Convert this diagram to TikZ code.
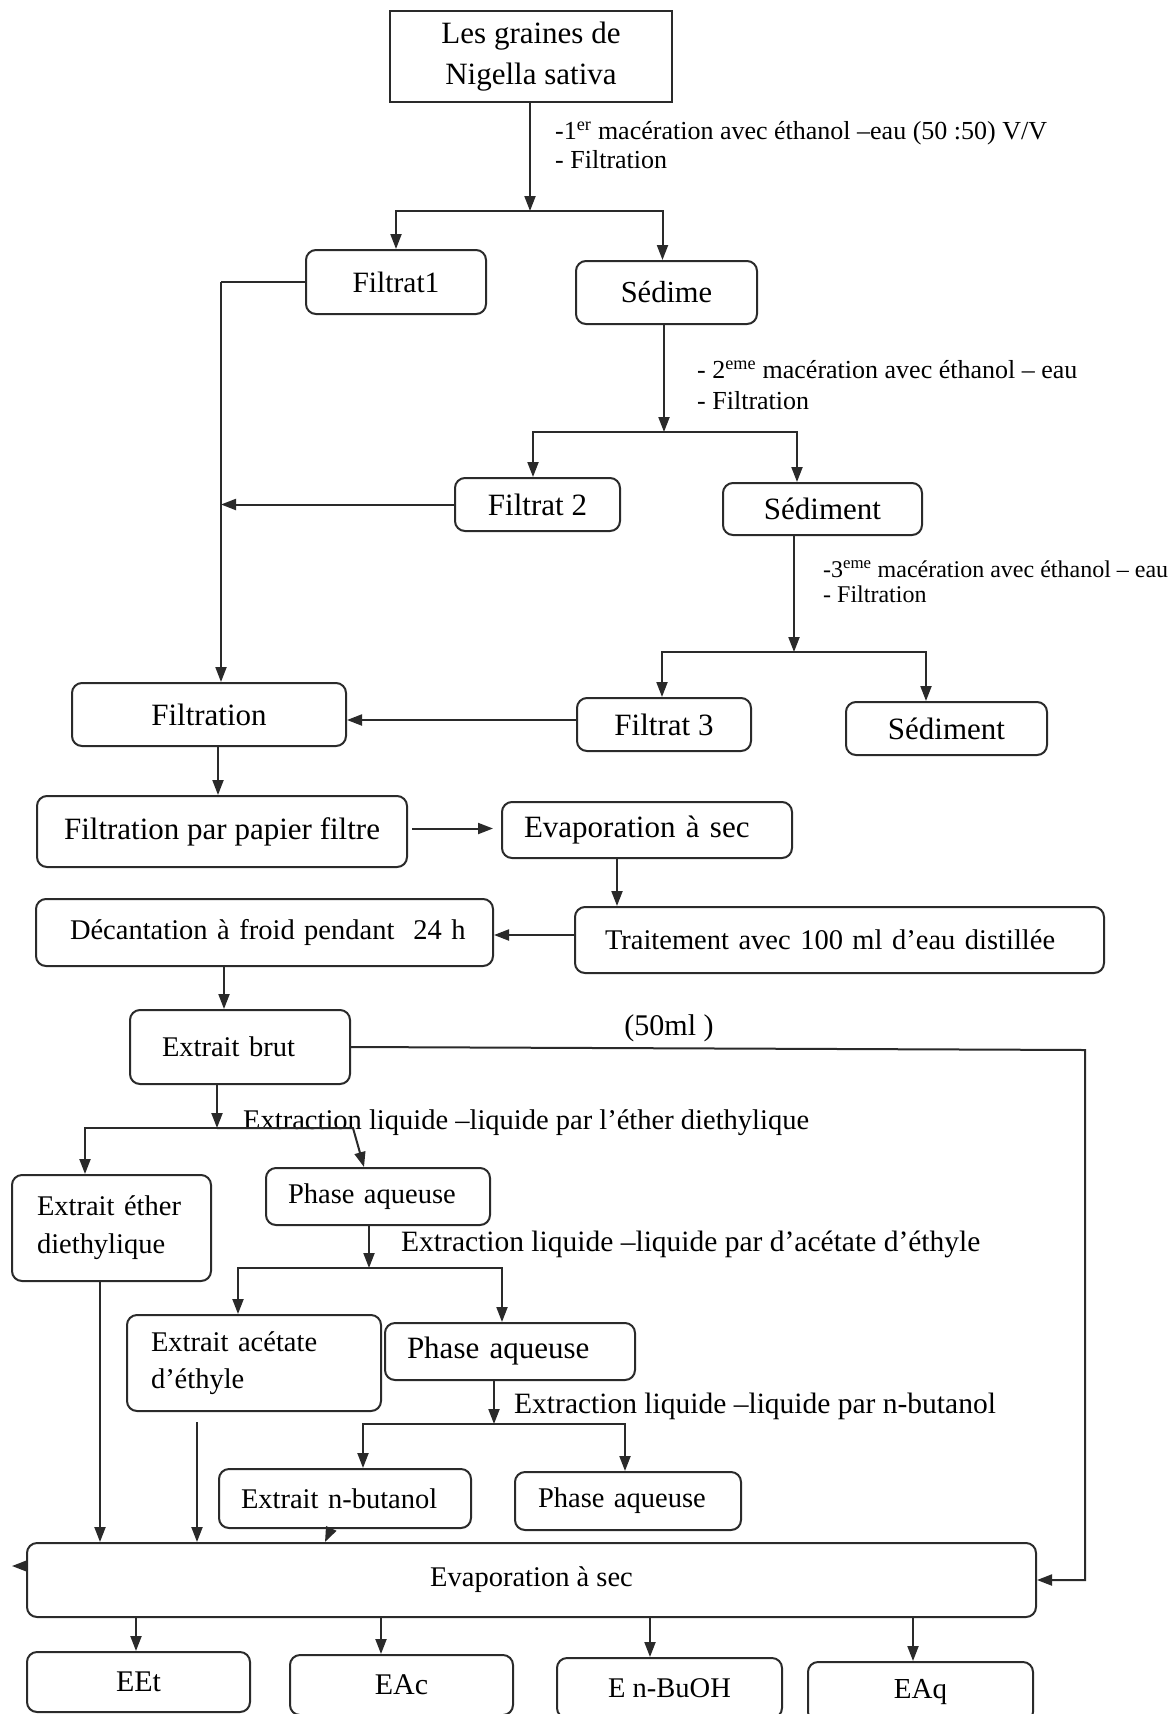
\documentclass[tikz,border=0pt]{standalone}
\usepackage{fontspec}
\setmainfont{Liberation Serif}
\usetikzlibrary{arrows.meta,calc}
\definecolor{linec}{HTML}{2A2A2A}
\newcommand\fsz[2]{\fontsize{#1pt}{#2pt}\selectfont}
\begin{document}
\begin{tikzpicture}[x=1pt,y=-1pt,
  box/.style={draw=linec, line width=2pt, rounded corners=10pt, inner sep=0pt, align=center, font=\fsz{28.5}{34}},
  sq/.style={box, rounded corners=0pt},
  conn/.style={draw=linec, line width=2pt, -{Triangle[length=15pt,width=11pt]}},
  plain/.style={draw=linec, line width=2pt},
  lbl/.style={anchor=west, inner sep=0pt, align=left, font=\fsz{28.5}{34}}]
\useasboundingbox (0,0) rectangle (1169,1714);
\fill[white] (0,0) rectangle (1169,1714);

% boxes
\node[sq, minimum width=282pt, minimum height=91pt, font=\fsz{31}{41}] (gr) at (531,56.5) {Les graines de\\Nigella sativa};
\node[box, minimum width=180pt, minimum height=64pt, font=\fsz{29.5}{34}] (f1) at (396,282) {Filtrat1};
\node[box, minimum width=181pt, minimum height=63pt, font=\fsz{30.5}{34}] (s1) at (666.5,292.5) {Sédime};
\node[box, minimum width=165pt, minimum height=53pt, font=\fsz{31}{34}] (f2) at (537.5,504.5) {Filtrat 2};
\node[box, minimum width=199pt, minimum height=52pt, font=\fsz{31}{34}] (s2) at (822.5,509) {Sédiment};
\node[box, minimum width=274pt, minimum height=63pt, font=\fsz{31}{34}] (fi) at (209,714.5) {Filtration};
\node[box, minimum width=174pt, minimum height=53pt, font=\fsz{31}{34}] (f3) at (664,724.5) {Filtrat 3};
\node[box, minimum width=201pt, minimum height=53pt, font=\fsz{31}{34}] (s3) at (946.5,728.5) {Sédiment};
\node[box, minimum width=370pt, minimum height=71pt, font=\fsz{31}{34}] (pp) at (222,831.5) {Filtration par papier filtre};
\node[box, minimum width=290pt, minimum height=56pt, font=\fsz{31}{34}, align=left, text width=246pt, inner xsep=22pt] (e1) at (647,830) {\mbox{Evaporation à sec}};
\node[box, minimum width=529pt, minimum height=66pt, align=left, text width=469pt, inner xsep=30pt] (tr) at (839.5,940) {\mbox{Traitement avec 100 ml d’eau distillée}};
\node[box, minimum width=457pt, minimum height=67pt, align=left, text width=389pt, inner xsep=34pt] (dc) at (264.5,932.5) {\mbox{Décantation à froid pendant\ \ 24 h}};
\node[box, minimum width=220pt, minimum height=74pt, align=left, text width=156pt, inner xsep=32pt] (eb) at (240,1047) {\mbox{Extrait brut}};
\node[box, minimum width=199pt, minimum height=106pt, font=\fsz{28.5}{38}, align=left, text width=149pt, inner xsep=25pt] (ee) at (111.5,1228) {\mbox{Extrait éther}\\\mbox{diethylique}};
\node[box, minimum width=224pt, minimum height=57pt, align=left, text width=180pt, inner xsep=22pt] (p1) at (378,1196.5) {\mbox{Phase aqueuse}};
\node[box, minimum width=254pt, minimum height=96pt, font=\fsz{28.5}{37}, align=left, text width=206pt, inner xsep=24pt] (ea) at (254,1363) {\mbox{Extrait acétate}\\\mbox{d’éthyle}};
\node[box, minimum width=250pt, minimum height=57pt, font=\fsz{31}{34}, align=left, text width=206pt, inner xsep=22pt] (p2) at (510,1351.5) {\mbox{Phase aqueuse}};
\node[box, minimum width=252pt, minimum height=59pt, align=left, text width=208pt, inner xsep=22pt] (nb) at (345,1498.5) {\mbox{Extrait n-butanol}};
\node[box, minimum width=226pt, minimum height=58pt, align=left, text width=180pt, inner xsep=23pt] (p3) at (628,1501) {\mbox{Phase aqueuse}};
\node[box, minimum width=1009pt, minimum height=74pt] (ev) at (531.5,1580) {Evaporation à sec};
\node[box, minimum width=223pt, minimum height=60pt, font=\fsz{30}{34}] (r1) at (138.5,1682) {EEt};
\node[box, minimum width=223pt, minimum height=60pt, font=\fsz{30}{34}] (r2) at (401.5,1685) {EAc};
\node[box, minimum width=225pt, minimum height=60pt] (r3) at (669.5,1688) {E n-BuOH};
\node[box, minimum width=225pt, minimum height=60pt, font=\fsz{29}{34}] (r4) at (920.5,1692) {EAq};

% labels
\node[lbl, font=\fsz{26}{29}] (l1) at (555,145.5) {-1\textsuperscript{er} macération avec éthanol –eau (50 :50) V/V\\- Filtration};
\node[lbl, font=\fsz{26}{31}] (l2) at (697,385.5) {- 2\textsuperscript{eme} macération avec éthanol – eau\\- Filtration};
\node[lbl, font=\fsz{24}{25}] (l3) at (823,581.5) {-3\textsuperscript{eme} macération avec éthanol – eau\\- Filtration};
\node[lbl, anchor=center, font=\fsz{30}{34}] (ml) at (669,1028) {(50ml )};
\node[lbl] (x1) at (243,1123) {Extraction liquide –liquide par l’éther diethylique};
\node[lbl, font=\fsz{29.5}{34}] (x2) at (401,1244) {Extraction liquide –liquide par d’acétate d’éthyle};
\node[lbl, font=\fsz{29.5}{34}] (x3) at (514,1406) {Extraction liquide –liquide par n-butanol};

% connectors
\coordinate (j1) at (530,211);
\draw[conn] (gr.south -| j1) -- (j1);
\draw[conn] (j1) -| (f1.north);
\coordinate (s1n) at ([xshift=-4pt]s1.north);
\draw[conn] (j1) -| (s1n);

\coordinate (c1) at (221,282);
\draw[plain] (f1.west) -- (c1);
\draw[conn] (c1) -- (c1 |- fi.north);
\draw[conn] (f2.west) -- (c1 |- f2.west);

\coordinate (j2) at (664,432);
\draw[conn] (s1.south -| j2) -- (j2);
\coordinate (f2n) at ([xshift=-4.5pt]f2.north);
\coordinate (s2n) at ([xshift=-25.5pt]s2.north);
\draw[conn] (j2) -| (f2n);
\draw[conn] (j2) -| (s2n);

\coordinate (j3) at (794,652);
\draw[conn] (s2.south -| j3) -- (j3);
\coordinate (f3n) at ([xshift=-2pt]f3.north);
\coordinate (s3n) at ([xshift=-20.5pt]s3.north);
\draw[conn] (j3) -| (f3n);
\draw[conn] (j3) -| (s3n);

\coordinate (f3w) at ([yshift=4.5pt]f3.west);
\draw[conn] (f3w) -- (f3w -| fi.east);

\coordinate (fis) at ([xshift=9pt]fi.south);
\draw[conn] (fis) -- (fis |- pp.north);
\coordinate (ppe) at ([yshift=3pt]pp.east);
\draw[conn, shorten <=4pt, shorten >=8pt] (ppe) -- (ppe -| e1.west);
\coordinate (e1s) at ([xshift=-30pt]e1.south);
\draw[conn] (e1s) -- (e1s |- tr.north);
\coordinate (trw) at ([yshift=5pt]tr.west);
\draw[conn] (trw) -- (trw -| dc.east);
\coordinate (dcs) at ([xshift=-40.5pt]dc.south);
\draw[conn] (dcs) -- (dcs |- eb.north);

\coordinate (cr) at (1085,1050);
\draw[conn] (eb.east) -- (cr) -- (cr |- ev.east) -- (ev.east);

\coordinate (j4) at (217,1128);
\draw[conn] (eb.south -| j4) -- (j4);
\coordinate (b4l) at (85,1128);
\coordinate (b4r) at (353,1128);
\coordinate (p1n) at ([xshift=-14pt]p1.north);
\draw[conn] (j4) -- (b4l) -- (b4l |- ee.north);
\draw[conn] (j4) -- (b4r) -- (p1n);

\coordinate (j5) at (369,1268);
\draw[conn] (p1.south -| j5) -- (j5);
\coordinate (b5l) at (238,1268);
\coordinate (b5r) at (502,1268);
\draw[conn] (j5) -- (b5l) -- (b5l |- ea.north);
\draw[conn] (j5) -- (b5r) -- (b5r |- p2.north);

\coordinate (j6) at (494,1424);
\draw[conn] (p2.south -| j6) -- (j6);
\coordinate (b6l) at (363,1424);
\coordinate (b6r) at (625,1424);
\draw[conn] (j6) -- (b6l) -- (b6l |- nb.north);
\draw[conn] (j6) -- (b6r) -- (b6r |- p3.north);

\coordinate (ees) at ([xshift=-11.5pt]ee.south);
\draw[conn] (ees) -- (ees |- ev.north);
\coordinate (eas) at ([xshift=-57pt]ea.south);
\draw[conn, shorten <=10pt] (eas) -- (eas |- ev.north);
\coordinate (nbs) at ([xshift=-14pt]nb.south);
\coordinate (nbx) at ([xshift=-20pt]nb.south);
\draw[conn] (nbs) -- (nbx |- ev.north);

\coordinate (evw) at ([yshift=14pt]ev.west);
\draw[conn] (evw) -- ++(-14,0);

\coordinate (r1n) at ([xshift=-2.5pt]r1.north);
\coordinate (r2n) at ([xshift=-20.5pt]r2.north);
\coordinate (r3n) at ([xshift=-19.5pt]r3.north);
\coordinate (r4n) at ([xshift=-7.5pt]r4.north);
\draw[conn] (r1n |- ev.south) -- (r1n);
\draw[conn] (r2n |- ev.south) -- (r2n);
\draw[conn] (r3n |- ev.south) -- (r3n);
\draw[conn] (r4n |- ev.south) -- (r4n);
\end{tikzpicture}
\end{document}
